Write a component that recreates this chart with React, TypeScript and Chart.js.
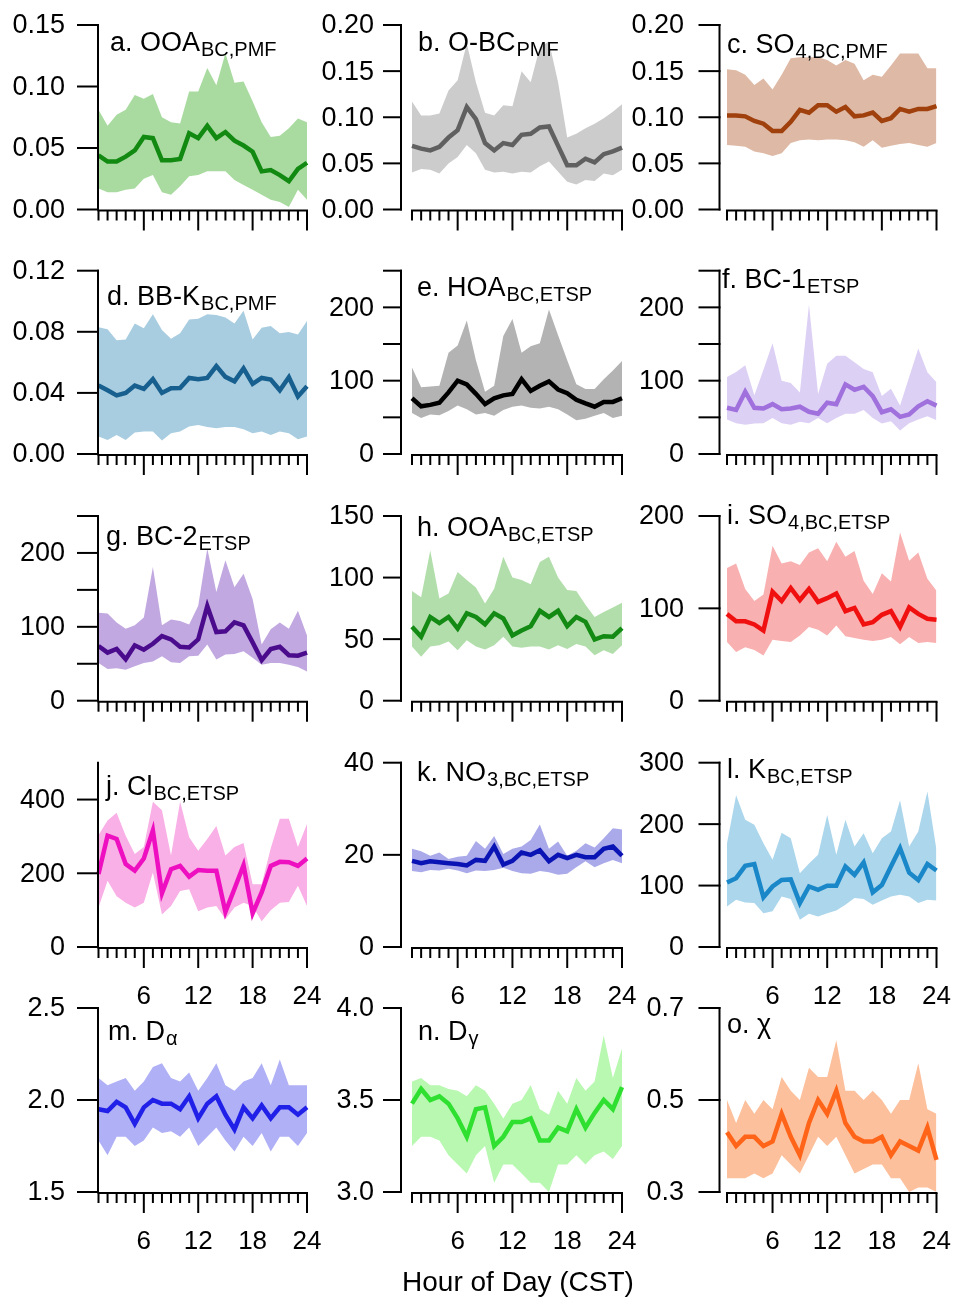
import React, { useEffect, useRef } from "react";
import { Chart, registerables } from "chart.js";
Chart.register(...registerables);

const W = 957;
const H = 1299;
const FONT = '"Liberation Sans", Arial, sans-serif';

const hours = [1, 2, 3, 4, 5, 6, 7, 8, 9, 10, 11, 12, 13, 14, 15, 16, 17, 18, 19, 20, 21, 22, 23, 24];
const xTickLabels = [6, 12, 18, 24];

const aMid = [0.044, 0.039, 0.039, 0.043, 0.048, 0.059, 0.058, 0.040, 0.040, 0.041, 0.062, 0.058, 0.068, 0.058, 0.063, 0.056, 0.052, 0.047, 0.031, 0.032, 0.028, 0.023, 0.033, 0.038];
const aHigh = [0.081, 0.068, 0.077, 0.081, 0.093, 0.090, 0.094, 0.075, 0.071, 0.070, 0.096, 0.096, 0.115, 0.101, 0.127, 0.103, 0.104, 0.088, 0.071, 0.059, 0.060, 0.066, 0.074, 0.071];
const aLow = [0.017, 0.014, 0.014, 0.016, 0.017, 0.025, 0.028, 0.014, 0.012, 0.019, 0.027, 0.028, 0.031, 0.031, 0.031, 0.024, 0.020, 0.016, 0.012, 0.008, 0.006, 0.002, 0.016, 0.008];

const bMid = [0.069, 0.066, 0.064, 0.068, 0.078, 0.086, 0.111, 0.098, 0.072, 0.064, 0.072, 0.070, 0.081, 0.082, 0.089, 0.090, 0.069, 0.048, 0.048, 0.055, 0.051, 0.060, 0.063, 0.067];
const bHigh = [0.117, 0.102, 0.102, 0.104, 0.129, 0.140, 0.180, 0.138, 0.105, 0.102, 0.113, 0.112, 0.150, 0.138, 0.176, 0.182, 0.138, 0.078, 0.082, 0.088, 0.093, 0.099, 0.106, 0.114];
const bLow = [0.040, 0.044, 0.043, 0.039, 0.050, 0.057, 0.070, 0.061, 0.043, 0.040, 0.041, 0.039, 0.041, 0.040, 0.047, 0.052, 0.041, 0.030, 0.027, 0.032, 0.031, 0.039, 0.037, 0.043];

const cMid = [0.102, 0.102, 0.101, 0.096, 0.093, 0.085, 0.085, 0.095, 0.108, 0.105, 0.113, 0.113, 0.106, 0.111, 0.101, 0.102, 0.105, 0.096, 0.099, 0.109, 0.106, 0.109, 0.109, 0.112];
const cHigh = [0.152, 0.151, 0.146, 0.135, 0.142, 0.130, 0.146, 0.164, 0.165, 0.165, 0.165, 0.162, 0.156, 0.162, 0.158, 0.140, 0.146, 0.144, 0.156, 0.169, 0.169, 0.169, 0.153, 0.153];
const cLow = [0.070, 0.069, 0.068, 0.063, 0.061, 0.058, 0.061, 0.072, 0.075, 0.076, 0.075, 0.076, 0.076, 0.075, 0.073, 0.068, 0.075, 0.067, 0.069, 0.071, 0.072, 0.070, 0.068, 0.072];

const dMid = [0.0448, 0.0417, 0.0384, 0.040, 0.0448, 0.0426, 0.049, 0.040, 0.043, 0.0432, 0.0498, 0.049, 0.0498, 0.0575, 0.0505, 0.0476, 0.056, 0.0459, 0.0498, 0.0487, 0.0417, 0.0502, 0.0377, 0.0443];
const dHigh = [0.083, 0.0816, 0.0745, 0.075, 0.0855, 0.0823, 0.0915, 0.0811, 0.0754, 0.079, 0.088, 0.0886, 0.0915, 0.091, 0.0893, 0.0855, 0.0937, 0.075, 0.0827, 0.0838, 0.079, 0.0799, 0.0783, 0.0871];
const dLow = [0.0114, 0.0092, 0.0125, 0.0092, 0.014, 0.0147, 0.0147, 0.0088, 0.0136, 0.0147, 0.018, 0.019, 0.0176, 0.0169, 0.0176, 0.0176, 0.0162, 0.0136, 0.0147, 0.0125, 0.0147, 0.0136, 0.0097, 0.0114];

const eMid = [76, 65, 67, 70, 84, 100, 95, 82, 68, 76, 80, 82, 102, 86, 93, 99, 88, 83, 74, 69, 64.5, 71, 71, 76];
const eHigh = [118, 91, 92, 93, 138, 148, 182, 128, 85, 93, 161, 184, 138, 147, 151, 197, 162, 128, 95, 88.5, 88.5, 102, 114, 127];
const eLow = [56, 49, 54, 53, 58.5, 66, 61, 54, 56, 52, 60, 64.5, 66, 63, 62, 64.5, 61, 54, 46, 48, 52, 56, 49, 52];

const fMid = [63, 60, 85, 63, 62, 68, 61, 62, 64.5, 57.6, 55, 70, 68, 95, 87.6, 91.7, 79, 57, 61, 50.7, 54, 65, 72, 66];
const fHigh = [105, 112, 121, 80, 115, 151, 100, 97, 84, 204, 82, 123, 134, 134, 125, 116, 111.5, 79, 89, 66, 105, 144, 111.5, 98];
const fLow = [47, 42, 40, 41.5, 42, 49, 42, 40, 44, 42, 49, 42, 49, 55, 55, 60, 49, 41.5, 44.7, 32, 42, 47, 51.6, 46];

const gMid = [74, 65, 70, 56, 75, 69, 77, 87.5, 83, 73, 72, 83, 128, 93, 94, 106, 102, 79, 55, 70, 73, 61.5, 61, 65];
const gHigh = [119, 118, 106, 97.5, 102, 112.5, 181, 102, 110, 108, 103, 128.5, 206, 147, 190, 153.5, 172, 137.6, 76, 96.6, 105.7, 97.5, 121.6, 88.4];
const gLow = [51, 43, 44, 42, 46.5, 51, 53, 60, 52, 51, 60, 61, 76, 55.6, 62.4, 63.3, 67, 58, 48.7, 51, 51, 48.7, 45.6, 39.6];

const hMid = [60, 52, 68, 63, 68, 58.6, 71, 68, 62, 71, 66.8, 53, 57, 60.5, 73, 68, 73, 60.5, 68, 64, 49.7, 52.4, 52, 59];
const hHigh = [89, 84, 122, 83, 87, 104.6, 98, 92, 79, 91, 117, 100, 98, 94.6, 112.7, 117, 100, 90, 89, 78, 68, 72, 75.7, 79.5];
const hLow = [44, 35.7, 44, 45, 48, 41, 49, 44, 41.6, 45, 52, 44, 43, 44, 44, 41.6, 45, 42, 46, 44, 37, 41, 38, 45];

const iMid = [94, 86, 86, 82.6, 76, 118, 108, 122, 109, 121, 107, 111, 116, 97, 100.5, 82.6, 85, 93, 97, 80, 101, 94, 88.7, 87.6];
const iHigh = [143.6, 148.7, 121, 108, 115, 167.7, 148.7, 151, 147, 160.5, 165, 151, 172, 156, 162, 130, 115.6, 138, 129, 182, 151.5, 160.5, 132, 119];
const iLow = [63.5, 52.8, 58, 55, 49, 66, 64.6, 63.5, 70.7, 79.7, 76.8, 70.7, 81.5, 69.7, 68, 66, 64.6, 66, 69, 61, 69, 62.5, 63.5, 62.5];

const jMid = [198, 302, 293, 225, 207, 240, 316, 146, 211, 220, 191, 209, 207, 207, 95, 158, 222, 91, 148, 220, 231, 230, 220, 240];
const jHigh = [304, 343, 364, 302, 252, 271, 394, 371, 248, 395, 298, 261, 293, 328, 248, 271, 282, 170, 170, 268, 348, 348, 271, 334];
const jLow = [107, 180, 138, 120, 107, 120, 202, 88, 111, 152, 157, 97, 107, 111, 75, 107, 120, 111, 70, 100, 120, 122, 166, 111];

const kMid = [18.7, 18.2, 18.6, 18.4, 18.2, 18.0, 17.7, 18.9, 18.7, 21.8, 17.9, 18.7, 20.5, 20.0, 21.0, 18.6, 20.0, 19.3, 20.0, 19.5, 19.5, 21.3, 21.8, 19.8];
const kHigh = [21.3, 20.8, 19.8, 20.5, 19.1, 19.6, 19.8, 23.0, 21.3, 24.1, 20.2, 21.3, 21.8, 23.2, 26.6, 21.3, 22.9, 19.8, 20.9, 22.5, 21.6, 23.6, 25.8, 25.5];
const kLow = [16.5, 16.2, 16.7, 16.6, 17.0, 16.6, 16.0, 16.6, 16.5, 16.7, 17.2, 16.5, 16.0, 15.9, 16.5, 16.2, 15.7, 15.9, 17.3, 18.6, 17.3, 18.2, 18.9, 18.2];

const lMid = [105, 112, 132, 135, 81, 98.5, 109, 110, 71.5, 98.5, 93, 99.6, 99.6, 131, 117.5, 137.5, 89, 101, 131, 160.8, 121, 109, 135, 124.5];
const lHigh = [169, 247, 207, 199, 169, 142, 186, 177, 120, 136, 150, 215, 150, 207, 163.5, 185, 152.7, 177, 188, 239, 163.5, 188, 253, 158];
const lLow = [66, 77, 72.5, 71.5, 55, 58, 82, 78, 44.4, 54, 49.8, 55, 59.6, 68.8, 79.6, 78, 68.8, 75.8, 82, 85, 82, 71.5, 77, 75.8];

const mMid = [1.95, 1.94, 1.99, 1.96, 1.87, 1.96, 2.00, 1.98, 1.98, 1.95, 2.02, 1.90, 1.98, 2.02, 1.92, 1.84, 1.96, 1.90, 1.97, 1.90, 1.96, 1.96, 1.92, 1.96];
const mHigh = [2.12, 2.08, 2.10, 2.12, 2.05, 2.10, 2.18, 2.20, 2.12, 2.10, 2.15, 2.05, 2.12, 2.20, 2.08, 2.05, 2.10, 2.12, 2.20, 2.08, 2.22, 2.08, 2.08, 2.08];
const mLow = [1.78, 1.70, 1.80, 1.80, 1.75, 1.78, 1.85, 1.82, 1.83, 1.80, 1.85, 1.75, 1.80, 1.85, 1.78, 1.72, 1.80, 1.75, 1.82, 1.72, 1.80, 1.80, 1.75, 1.82];

const nMid = [3.48, 3.56, 3.50, 3.52, 3.48, 3.40, 3.30, 3.45, 3.46, 3.25, 3.30, 3.38, 3.38, 3.40, 3.28, 3.28, 3.35, 3.33, 3.45, 3.35, 3.43, 3.50, 3.45, 3.57];
const nHigh = [3.60, 3.62, 3.58, 3.58, 3.56, 3.55, 3.52, 3.58, 3.55, 3.48, 3.40, 3.48, 3.50, 3.58, 3.45, 3.42, 3.55, 3.48, 3.62, 3.55, 3.60, 3.85, 3.62, 3.78];
const nLow = [3.25, 3.30, 3.30, 3.28, 3.20, 3.15, 3.10, 3.20, 3.25, 3.05, 3.15, 3.15, 3.10, 3.05, 3.05, 3.00, 3.15, 3.15, 3.20, 3.15, 3.20, 3.22, 3.18, 3.25];

const oMid = [0.43, 0.40, 0.42, 0.42, 0.40, 0.41, 0.47, 0.42, 0.38, 0.45, 0.50, 0.47, 0.52, 0.45, 0.42, 0.41, 0.41, 0.42, 0.38, 0.41, 0.40, 0.39, 0.44, 0.37];
const oHigh = [0.50, 0.45, 0.50, 0.47, 0.50, 0.48, 0.55, 0.52, 0.50, 0.57, 0.55, 0.55, 0.63, 0.52, 0.52, 0.50, 0.52, 0.50, 0.47, 0.50, 0.50, 0.58, 0.48, 0.47];
const oLow = [0.33, 0.33, 0.33, 0.34, 0.33, 0.34, 0.38, 0.36, 0.34, 0.38, 0.42, 0.40, 0.42, 0.38, 0.34, 0.35, 0.36, 0.36, 0.33, 0.33, 0.30, 0.31, 0.31, 0.30];

const colGeom = [
  { axisX: 98, x0: 98.5, x1: 307, tick: 21, labelRight: 65 },
  { axisX: 401, x0: 412, x1: 622, tick: 18, labelRight: 374 },
  { axisX: 719.5, x0: 727, x1: 936.5, tick: 21, labelRight: 684 },
];
const rowGeom = [
  { top: 25, bottom: 209.5 },
  { top: 270.7, bottom: 454 },
  { top: 516, bottom: 700.7 },
  { top: 762.7, bottom: 947 },
  { top: 1008, bottom: 1192 },
];

type Panel = {
  prefix: string; main: string; sub: string;
  mid: number[]; hi: number[]; lo: number[];
  yMin: number; yMax: number; major: number[]; minor: number[]; dec: number;
  line: string; band: string; col: number; row: number; tx: number; ty: number;
};

const panels: Panel[] = [
  { prefix: "a. ", main: "OOA", sub: "BC,PMF", mid: aMid, hi: aHigh, lo: aLow, yMin: 0, yMax: 0.15, major: [0, 0.05, 0.1, 0.15], minor: [], dec: 2, line: "#128a12", band: "#a9dba0", col: 0, row: 0, tx: 110, ty: 51 },
  { prefix: "b. ", main: "O-BC", sub: "PMF", mid: bMid, hi: bHigh, lo: bLow, yMin: 0, yMax: 0.2, major: [0, 0.05, 0.1, 0.15, 0.2], minor: [], dec: 2, line: "#606060", band: "#cccccc", col: 1, row: 0, tx: 418, ty: 51 },
  { prefix: "c. ", main: "SO", sub: "4,BC,PMF", mid: cMid, hi: cHigh, lo: cLow, yMin: 0, yMax: 0.2, major: [0, 0.05, 0.1, 0.15, 0.2], minor: [], dec: 2, line: "#a0400c", band: "#deb9a5", col: 2, row: 0, tx: 727, ty: 53 },
  { prefix: "d. ", main: "BB-K", sub: "BC,PMF", mid: dMid, hi: dHigh, lo: dLow, yMin: 0, yMax: 0.12, major: [0, 0.04, 0.08, 0.12], minor: [], dec: 2, line: "#165f8e", band: "#a9cde0", col: 0, row: 1, tx: 107, ty: 305 },
  { prefix: "e. ", main: "HOA", sub: "BC,ETSP", mid: eMid, hi: eHigh, lo: eLow, yMin: 0, yMax: 250, major: [0, 100, 200], minor: [50, 150, 250], dec: 0, line: "#000000", band: "#b3b3b3", col: 1, row: 1, tx: 417, ty: 296 },
  { prefix: "f. ", main: "BC-1", sub: "ETSP", mid: fMid, hi: fHigh, lo: fLow, yMin: 0, yMax: 250, major: [0, 100, 200], minor: [50, 150, 250], dec: 0, line: "#a070dd", band: "#ddd0f5", col: 2, row: 1, tx: 722, ty: 288 },
  { prefix: "g. ", main: "BC-2", sub: "ETSP", mid: gMid, hi: gHigh, lo: gLow, yMin: 0, yMax: 250, major: [0, 100, 200], minor: [50, 150, 250], dec: 0, line: "#4a0c8c", band: "#c2a8e0", col: 0, row: 2, tx: 106, ty: 545 },
  { prefix: "h. ", main: "OOA", sub: "BC,ETSP", mid: hMid, hi: hHigh, lo: hLow, yMin: 0, yMax: 150, major: [0, 50, 100, 150], minor: [], dec: 0, line: "#138a13", band: "#b2deab", col: 1, row: 2, tx: 417, ty: 536 },
  { prefix: "i. ", main: "SO", sub: "4,BC,ETSP", mid: iMid, hi: iHigh, lo: iLow, yMin: 0, yMax: 200, major: [0, 100, 200], minor: [], dec: 0, line: "#f01010", band: "#f8b0b0", col: 2, row: 2, tx: 727, ty: 524 },
  { prefix: "j. ", main: "Cl", sub: "BC,ETSP", mid: jMid, hi: jHigh, lo: jLow, yMin: 0, yMax: 500, major: [0, 200, 400], minor: [], dec: 0, line: "#ee10c0", band: "#f8b0e6", col: 0, row: 3, tx: 106, ty: 795 },
  { prefix: "k. ", main: "NO", sub: "3,BC,ETSP", mid: kMid, hi: kHigh, lo: kLow, yMin: 0, yMax: 40, major: [0, 20, 40], minor: [], dec: 0, line: "#0a14b4", band: "#aaaaea", col: 1, row: 3, tx: 417, ty: 781 },
  { prefix: "l. ", main: "K", sub: "BC,ETSP", mid: lMid, hi: lHigh, lo: lLow, yMin: 0, yMax: 300, major: [0, 100, 200, 300], minor: [], dec: 0, line: "#1a88c8", band: "#acd6ec", col: 2, row: 3, tx: 727, ty: 778 },
  { prefix: "m. ", main: "D", sub: "α", mid: mMid, hi: mHigh, lo: mLow, yMin: 1.5, yMax: 2.5, major: [1.5, 2.0, 2.5], minor: [], dec: 1, line: "#2020e8", band: "#b0b0f6", col: 0, row: 4, tx: 108, ty: 1040 },
  { prefix: "n. ", main: "D", sub: "γ", mid: nMid, hi: nHigh, lo: nLow, yMin: 3.0, yMax: 4.0, major: [3.0, 3.5, 4.0], minor: [], dec: 1, line: "#30e030", band: "#b8f8b0", col: 1, row: 4, tx: 418, ty: 1040 },
  { prefix: "o. ", main: "χ", sub: "", mid: oMid, hi: oHigh, lo: oLow, yMin: 0.3, yMax: 0.7, major: [0.3, 0.5, 0.7], minor: [], dec: 1, line: "#ff6418", band: "#fcc09c", col: 2, row: 4, tx: 727, ty: 1033 },
];

function seg(ctx: CanvasRenderingContext2D, x1: number, y1: number, x2: number, y2: number) {
  ctx.beginPath();
  ctx.moveTo(x1, y1);
  ctx.lineTo(x2, y2);
  ctx.stroke();
}

function drawAxes(chart: any, p: Panel) {
  const ctx: CanvasRenderingContext2D = chart.ctx;
  const xs = chart.scales.x;
  const ys = chart.scales.y;
  const c = colGeom[p.col];
  ctx.save();
  ctx.strokeStyle = "#000";
  ctx.fillStyle = "#000";
  ctx.lineWidth = 2;
  ctx.lineCap = "butt";
  const yTop = ys.getPixelForValue(p.yMax);
  const yBot = ys.getPixelForValue(p.yMin);
  seg(ctx, c.axisX, yTop - 1, c.axisX, yBot + 1);
  [...p.major, ...p.minor].forEach((v) => {
    const y = ys.getPixelForValue(v);
    seg(ctx, c.axisX - c.tick, y, c.axisX + 1, y);
  });
  ctx.font = `27px ${FONT}`;
  ctx.textAlign = "right";
  ctx.textBaseline = "middle";
  p.major.forEach((v) => {
    const y = ys.getPixelForValue(v);
    ctx.fillText(v.toFixed(p.dec), c.labelRight, y + 1);
  });
  const xAxisY = yBot + 1;
  seg(ctx, xs.getPixelForValue(1) - 1, xAxisY, xs.getPixelForValue(24) + 1, xAxisY);
  hours.forEach((h) => {
    const x = xs.getPixelForValue(h);
    const len = h % 6 === 0 ? 20 : 10;
    seg(ctx, x, xAxisY, x, xAxisY + len);
  });
  if (p.row >= 3) {
    ctx.font = `26px ${FONT}`;
    ctx.textAlign = "center";
    ctx.textBaseline = "middle";
    xTickLabels.forEach((h) => {
      ctx.fillText(String(h), xs.getPixelForValue(h), xAxisY + 49);
    });
  }
  ctx.textAlign = "left";
  ctx.textBaseline = "alphabetic";
  ctx.font = `27px ${FONT}`;
  const t = p.prefix + p.main;
  ctx.fillText(t, p.tx, p.ty);
  const w = ctx.measureText(t).width;
  if (p.sub) {
    ctx.font = `20px ${FONT}`;
    ctx.fillText(p.sub, p.tx + w + 1, p.ty + 5);
  }
  ctx.restore();
}

function PanelChart({ p }: { p: Panel }) {
  const ref = useRef<HTMLCanvasElement>(null);
  useEffect(() => {
    if (!ref.current) return;
    const c = colGeom[p.col];
    const r = rowGeom[p.row];
    const pts = (arr: number[]) => hours.map((h, i) => ({ x: h, y: arr[i] }));
    const chart = new Chart(ref.current, {
      type: "line",
      data: {
        datasets: [
          { data: pts(p.mid), borderColor: p.line, borderWidth: 4.5, pointRadius: 0, fill: false, tension: 0, clip: false, borderJoinStyle: "miter" } as any,
          { data: pts(p.hi), borderWidth: 0, borderColor: "rgba(0,0,0,0)", backgroundColor: p.band, pointRadius: 0, fill: "+1", tension: 0, clip: false } as any,
          { data: pts(p.lo), borderWidth: 0, borderColor: "rgba(0,0,0,0)", pointRadius: 0, fill: false, tension: 0, clip: false } as any,
        ],
      },
      options: {
        animation: false,
        responsive: false,
        maintainAspectRatio: false,
        events: [],
        layout: { padding: { left: c.x0, right: W - c.x1, top: r.top, bottom: H - r.bottom } },
        plugins: { legend: { display: false }, tooltip: { enabled: false }, title: { display: false } },
        scales: {
          x: { type: "linear", min: 1, max: 24, display: false },
          y: { type: "linear", min: p.yMin, max: p.yMax, display: false },
        },
      },
      plugins: [{ id: "customAxes", afterDraw: (ch: any) => drawAxes(ch, p) }],
    } as any);
    return () => chart.destroy();
  }, [p]);
  return (
    <canvas
      ref={ref}
      width={W}
      height={H}
      style={{ position: "absolute", left: 0, top: 0, width: W, height: H }}
    />
  );
}

export default function App() {
  return (
    <div style={{ position: "absolute", left: 0, top: 0, width: W, height: H, background: "#fff", overflow: "hidden" }}>
      {panels.map((p, i) => (
        <PanelChart key={i} p={p} />
      ))}
      <div
        style={{
          position: "absolute",
          left: 318,
          width: 400,
          top: 1268,
          textAlign: "center",
          font: `28px ${FONT}`,
          lineHeight: "28px",
          color: "#000",
        }}
      >
        Hour of Day (CST)
      </div>
    </div>
  );
}
